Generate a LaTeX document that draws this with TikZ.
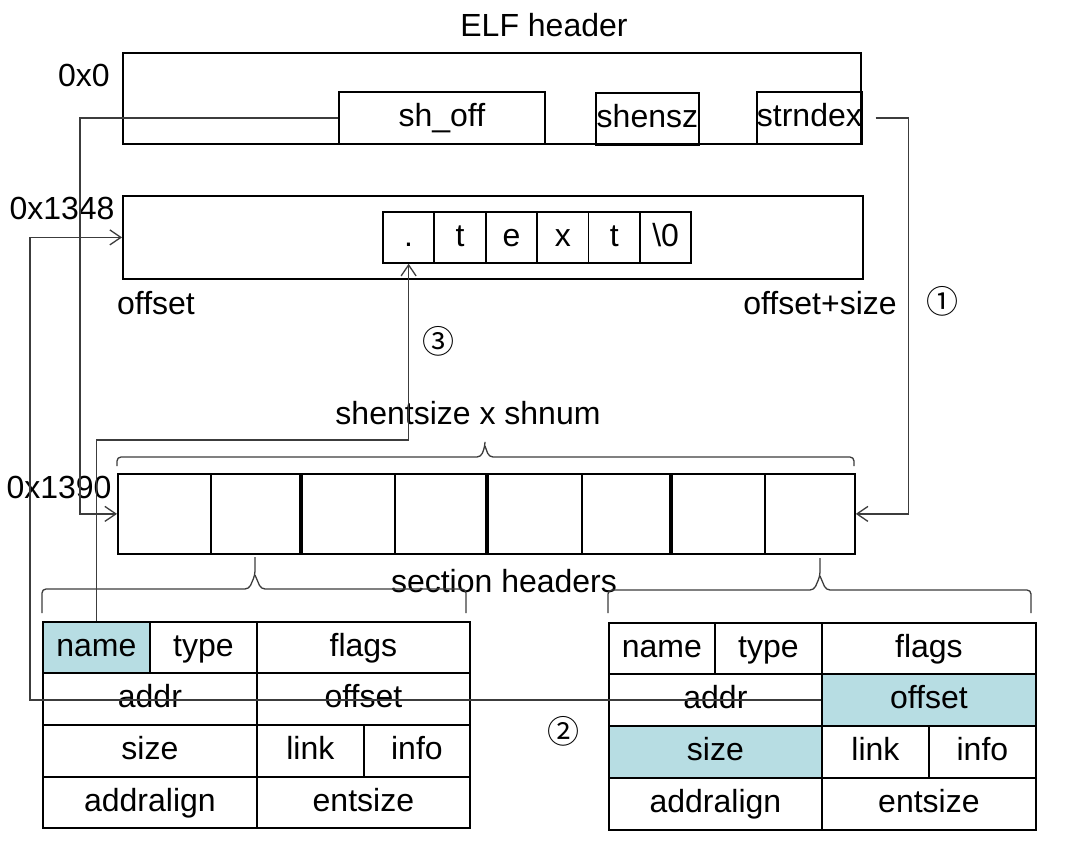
\documentclass[tikz,border=0pt]{standalone}
\usepackage{fontspec}
\setmainfont{Liberation Sans}
\newfontfamily\circfont{Noto Sans CJK SC}
\usetikzlibrary{positioning, calc, arrows.meta}
\definecolor{hilite}{RGB}{183, 221, 227}
\definecolor{wiregray}{RGB}{60, 60, 60}

\begin{document}
\begin{tikzpicture}[x=1pt, y=-1pt,
  fld/.style={draw, line width=1.8pt, inner sep=0pt, anchor=north west, text height=23pt, text depth=5pt, font=\fontsize{32}{36}\selectfont},
  lbl/.style={inner sep=0pt, font=\fontsize{32}{36}\selectfont},
  circ/.style={inner sep=0pt, font=\circfont\fontsize{32}{36}\selectfont},
  wire/.style={draw=wiregray, line width=1.3pt},
  ptr/.style={wire, -{Straight Barb[length=11pt, width=15pt, line width=1.3pt]}},
  brc/.style={wire, rounded corners=4pt}
]
  \fill[white] (0,0) rectangle (1090,859);
  \useasboundingbox (0,0) rectangle (1090,859);

  % ELF header
  \node[lbl] (title) at (544,25) {ELF header};
  \node[lbl] (a0) at (84,75) {0x0};
  \node[fld, minimum width=738pt, minimum height=91pt] (elf) at (122,52) {};
  \node[fld, minimum width=206pt, minimum height=52pt] (shoff) at (338,91) {sh\_off};
  \node[fld, minimum width=103pt, minimum height=52pt] (shensz) at (595,92) {shensz};
  \node[fld, minimum width=104pt, minimum height=52pt] (strndex) at (756,91) {strndex};

  % string table
  \node[lbl] (a1348) at (62,208) {0x1348};
  \node[fld, minimum width=740pt, minimum height=83pt] (strtab) at (122,195) {};
  \foreach \ch [count=\i] in {., t, e, x, t, \textbackslash 0}
    \node[fld, minimum width=51.4pt, minimum height=51pt] (c\i) at ({382+(\i-1)*51.4}, 211) {\ch};
  \node[lbl] (ofs) at (156,303) {offset};
  \node[lbl] (ofsend) at (820,303) {offset+size};
  \node[circ] (n1) at (942,301) {①};
  \node[circ] (n3) at (438,341) {③};

  % section headers
  \node[lbl] (span) at (468,413) {shentsize x shnum};
  \node[lbl] (a1390) at (59,487) {0x1390};
  \foreach \a/\b [count=\i] in {117/210, 210/299, 299/394, 394/485, 485/581, 581/669, 669/764, 764/854}
    \node[fld, minimum width={(\b-\a)*1pt}, minimum height=80pt] (sh\i) at (\a,473) {};
  \foreach \i in {2,4,6}
    \draw[line width=3.6pt] (sh\i.north east) -- (sh\i.south east);
  \node[lbl] (shdrs) at (504,581) {section headers};

  \draw[brc] (117,466) -- (117,457) -- (481,457) -- (485,446) -- (485,443);
  \draw[brc] (485,446) -- (489,457) -- (854,457) -- (854,466);
  \draw[brc] (42,613) -- (42,589) -- (249,589) -- (255,575) -- (255,557);
  \draw[brc] (255,575) -- (261,589) -- (466,589) -- (466,613);
  \draw[brc] (608,613) -- (608,590) -- (814,590) -- (820,576) -- (820,558);
  \draw[brc] (820,576) -- (826,590) -- (1031,590) -- (1031,613);

  % left entry
  \node[fld, minimum width=107pt, minimum height=51pt, fill=hilite] (lname) at (42,621) {name};
  \node[fld, minimum width=107pt, minimum height=51pt] (ltype) at (149,621) {type};
  \node[fld, minimum width=213pt, minimum height=51pt] (lflags) at (256,621) {flags};
  \node[fld, minimum width=214pt, minimum height=52pt] (laddr) at (42,672) {addr};
  \node[fld, minimum width=213pt, minimum height=52pt] (loffset) at (256,672) {offset};
  \node[fld, minimum width=214pt, minimum height=52pt] (lsize) at (42,724) {size};
  \node[fld, minimum width=107pt, minimum height=52pt] (llink) at (256,724) {link};
  \node[fld, minimum width=106pt, minimum height=52pt] (linfo) at (363,724) {info};
  \node[fld, minimum width=214pt, minimum height=51pt] (lalign) at (42,776) {addralign};
  \node[fld, minimum width=213pt, minimum height=51pt] (lentsize) at (256,776) {entsize};

  % right entry
  \node[fld, minimum width=106pt, minimum height=51pt] (rname) at (608,622) {name};
  \node[fld, minimum width=107pt, minimum height=51pt] (rtype) at (714,622) {type};
  \node[fld, minimum width=214pt, minimum height=51pt] (rflags) at (821,622) {flags};
  \node[fld, minimum width=213pt, minimum height=52pt] (raddr) at (608,673) {addr};
  \node[fld, minimum width=214pt, minimum height=52pt, fill=hilite] (roffset) at (821,673) {offset};
  \node[fld, minimum width=213pt, minimum height=52pt, fill=hilite] (rsize) at (608,725) {size};
  \node[fld, minimum width=107pt, minimum height=52pt] (rlink) at (821,725) {link};
  \node[fld, minimum width=107pt, minimum height=52pt] (rinfo) at (928,725) {info};
  \node[fld, minimum width=213pt, minimum height=52pt] (ralign) at (608,777) {addralign};
  \node[fld, minimum width=214pt, minimum height=52pt] (rentsize) at (821,777) {entsize};
  \node[circ] (n2) at (563,731) {②};

  % pointers
  \draw[ptr] (shoff.west) -- ++(-258,0) |- (sh1.west);
  \draw[ptr] ([xshift=13pt]strndex.east) -- ++(33,0) |- (sh8.east);
  \draw[ptr] (roffset.west) -- ++(-791,0) |- (strtab.west);
  \draw[ptr] (lname.north) -- ++(0,-181) -| (c1.south);
\end{tikzpicture}
\end{document}
